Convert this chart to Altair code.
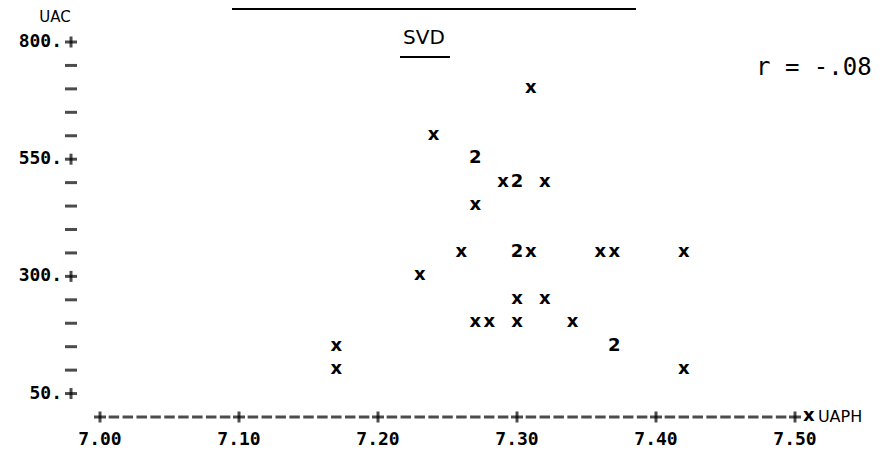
import altair as alt
import pandas as pd

# ---- data (UAPH vs UAC, SVD group) ----
uaph = [7.31, 7.24, 7.27, 7.29, 7.30, 7.32, 7.27, 7.26, 7.30, 7.31, 7.36, 7.37,
        7.42, 7.23, 7.30, 7.32, 7.27, 7.28, 7.30, 7.34, 7.37, 7.17, 7.17, 7.42]
uac = [700, 600, 550, 500, 500, 500, 450, 350, 350, 350, 350, 350,
       350, 300, 250, 250, 200, 200, 200, 200, 150, 150, 100, 100]
cases = [1, 1, 2, 1, 2, 1, 1, 1, 2, 1, 1, 1,
         1, 1, 1, 1, 1, 1, 1, 1, 2, 1, 1, 1]

x_major = [7.00, 7.10, 7.20, 7.30, 7.40, 7.50]
x_major_labels = ["7.00", "7.10", "7.20", "7.30", "7.40", "7.50"]
y_major = [800, 550, 300, 50]
y_major_labels = ["800.", "550.", "300.", "50."]
y_minor = [750, 700, 650, 600, 500, 450, 400, 350, 250, 200, 150, 100]
x_minor = [round(7.0 + i / 100, 2) for i in range(51) if i % 10 != 0]

title_text = "SVD"
corr_text = "r = -.08"
y_title = "UAC"
x_title = "UAPH"

# ---- shared scales ----
XS = alt.Scale(domain=[7.0, 7.5], range=[92, 787], nice=False, zero=False)
YS = alt.Scale(domain=[0, 800], range=[409, 34], nice=False, zero=False)

def X(field):
    return alt.X(field, type="quantitative", scale=XS, axis=None)

def Y(field):
    return alt.Y(field, type="quantitative", scale=YS, axis=None)

MONO = "DejaVu Sans Mono"
SANS = "DejaVu Sans"

pts = pd.DataFrame({"uaph": uaph, "uac": uac, "n": cases})
points = alt.Chart(pts).transform_calculate(
    glyph="datum.n > 1 ? '' + datum.n : 'x'"
).mark_text(font=SANS, fontWeight="bold", fontSize=18, align="center",
            baseline="middle", color="black", dy=-1).encode(
    x=X("uaph"), y=Y("uac"), text="glyph:N")

# ---- y axis (printer style) ----
ymaj_df = pd.DataFrame({"v": y_major, "lab": y_major_labels})
ymin_df = pd.DataFrame({"v": y_minor})
ylabels = alt.Chart(ymaj_df).mark_text(font=MONO, fontWeight="bold", fontSize=18,
                                        align="right", baseline="middle",
                                        color="black").encode(
    x=alt.value(54), y=Y("v"), text="lab:N")
yplus_h = alt.Chart(ymaj_df).mark_tick(orient="horizontal", size=12, thickness=3,
                                       color="black").encode(x=alt.value(63), y=Y("v"))
yplus_v = alt.Chart(ymaj_df).mark_tick(orient="vertical", size=11, thickness=3,
                                       color="black").encode(x=alt.value(63), y=Y("v"))
ydash = alt.Chart(ymin_df).mark_tick(orient="horizontal", size=12, thickness=3,
                                     color="black").encode(x=alt.value(63), y=Y("v"))
ytitle = alt.Chart(pd.DataFrame({"t": [y_title]})).mark_text(
    font=SANS, fontSize=15, align="center", baseline="middle", color="black").encode(
    x=alt.value(47), y=alt.value(9), text="t:N")

# ---- x axis (printer style) ----
xmaj_df = pd.DataFrame({"v": x_major, "lab": x_major_labels, "z": 0})
xmin_df = pd.DataFrame({"v": x_minor, "z": 0})
xdash = alt.Chart(xmin_df).mark_tick(orient="horizontal", size=10.5, thickness=3,
                                     color="black").encode(x=X("v"), y=Y("z"))
xplus_h = alt.Chart(xmaj_df).mark_tick(orient="horizontal", size=12, thickness=3,
                                       color="black").encode(x=X("v"), y=Y("z"))
xplus_v = alt.Chart(xmaj_df).mark_tick(orient="vertical", size=11, thickness=3,
                                       color="black").encode(x=X("v"), y=Y("z"))
xlabels = alt.Chart(xmaj_df).mark_text(font=MONO, fontWeight="bold", fontSize=18,
                                       align="center", baseline="bottom",
                                       color="black", dy=32).encode(
    x=X("v"), y=Y("z"), text="lab:N")
xt_df = pd.DataFrame({"v": [7.51], "z": [0], "t": [x_title]})
xmark = alt.Chart(xt_df).mark_text(font=SANS, fontWeight="bold", fontSize=18,
                                   align="center", baseline="middle", color="black",
                                   dy=-1).encode(x=X("v"), y=Y("z"), text=alt.value("x"))
xtitle = alt.Chart(xt_df).mark_text(font=SANS, fontSize=16, align="left",
                                    baseline="middle", color="black", dx=9).encode(
    x=X("v"), y=Y("z"), text="t:N")

# ---- annotations ----
ann = pd.DataFrame({"t": [title_text]})
svd = alt.Chart(ann).mark_text(font=SANS, fontSize=20, align="center",
                               baseline="middle", color="black").encode(
    x=alt.value(416), y=alt.value(30), text="t:N")
svd_line = alt.Chart(ann).mark_rule(color="black", strokeWidth=2).encode(
    x=alt.value(392), x2=alt.value(442), y=alt.value(49))
top_line = alt.Chart(ann).mark_rule(color="black", strokeWidth=2).encode(
    x=alt.value(224), x2=alt.value(628), y=alt.value(1))
corr = alt.Chart(pd.DataFrame({"t": [corr_text]})).mark_text(
    font=MONO, fontSize=24, align="left", baseline="middle", color="black").encode(
    x=alt.value(748), y=alt.value(60), text="t:N")

chart = alt.layer(
    top_line, svd, svd_line, corr,
    ytitle, ylabels, yplus_h, yplus_v, ydash,
    xdash, xplus_h, xplus_v, xlabels, xmark, xtitle,
    points,
).properties(
    width=866, height=443, padding=0, autosize="none", background="white"
).configure_view(stroke=None)

chart.save("out.html", embed_options={"renderer": "svg", "actions": False})
